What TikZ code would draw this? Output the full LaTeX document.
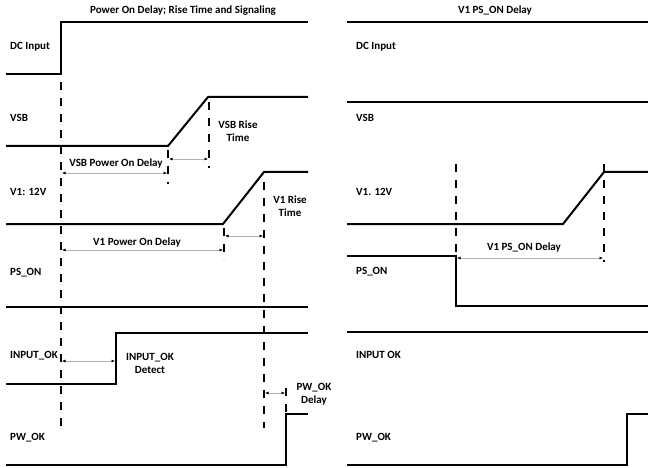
\documentclass[tikz,border=0pt]{standalone}
\usepackage{fontspec}
\setmainfont{Carlito}
\usetikzlibrary{arrows.meta,positioning}

\begin{document}
\begin{tikzpicture}[
    x=1pt, y=-1pt,
    font=\bfseries\fontsize{11}{13}\selectfont,
    signal/.style={
		line width=2pt,
		line join=miter
	},
    guide/.style={
		line width=1.6pt,
		dash pattern=on 8pt off 8pt
	},
    delay/.style={
		draw=gray!60,
		line width=0.6pt,
		{Latex[length=3.5pt,width=3pt,black]}-{Latex[length=3.5pt,width=3pt,black]}
	},
    sig/.style={
		anchor=west,
		inner sep=0pt
	},
    note/.style={
		align=center,
		inner sep=0pt
	}
  ]
  \useasboundingbox (0,0) rectangle (648,468);

  % titles
  \node [note] (titleL) at (183,11) {Power On Delay; Rise Time and Signaling};
  \node [note] (titleR) at (495,11) {V1 PS\_ON Delay};

  % signal names, left panel
  \node [sig] (dcL)   at (10,47)  {DC Input};
  \node [sig] (vsbL)  at (10,118) {VSB};
  \node [sig] (v1L)   at (10,192) {V1: 12V};
  \node [sig] (psonL) at (10,273) {PS\_ON};
  \node [sig] (inokL) at (10,356) {INPUT\_OK};
  \node [sig] (pwokL) at (10,438) {PW\_OK};

  % signal names, right panel
  \node [sig] (dcR)   at (356,47)  {DC Input};
  \node [sig] (vsbR)  at (356,118) {VSB};
  \node [sig] (v1R)   at (356,192) {V1. 12V};
  \node [sig] (psonR) at (356,272) {PS\_ON};
  \node [sig] (inokR) at (356,355) {INPUT OK};
  \node [sig] (pwokR) at (356,438) {PW\_OK};

  % waveforms, left panel
  \draw [signal] (6,74) -- (61,74) -- (61,22) -- (308,22);
  \draw [signal] (6,146) -- (168,146) -- (208,97) -- (308,97);
  \draw [signal] (6,224) -- (223,224) -- (264,172) -- (308,172);
  \draw [signal] (6,307) -- (308,307);
  \draw [signal] (6,384) -- (116,384) -- (116,333) -- (308,333);
  \draw [signal] (6,465) -- (286,465) -- (286,414) -- (308,414);

  % waveforms, right panel
  \draw [signal] (347,22) -- (648,22);
  \draw [signal] (347,102) -- (648,102);
  \draw [signal] (347,224) -- (563,224) -- (604,172) -- (648,172);
  \draw [signal] (347,256) -- (456,256) -- (456,306) -- (648,306);
  \draw [signal] (347,332) -- (648,332);
  \draw [signal] (347,465) -- (627,465) -- (627,414) -- (648,414);

  % guide lines
  \draw [guide] (61,82) -- (61,428);
  \draw [guide] (209,102) -- (209,168);
  \draw [guide] (168,150) -- (168,184);
  \draw [guide] (224,228) -- (224,260);
  \draw [guide] (264,182) -- (264,428);
  \draw [guide] (286,388) -- (286,412);
  \draw [guide] (456,164) -- (456,258);
  \draw [guide] (604,164) -- (604,262);

  % delay markers
  \coordinate (vsbdA) at (62,173);  \coordinate (vsbdB) at (167,173);
  \coordinate (vsbrA) at (169,159); \coordinate (vsbrB) at (208,159);
  \coordinate (v1dA)  at (62,250);  \coordinate (v1dB)  at (223,250);
  \coordinate (v1rA)  at (225,236); \coordinate (v1rB)  at (263,236);
  \coordinate (inokA) at (62,361);  \coordinate (inokB) at (115,361);
  \coordinate (pwokA) at (265,393); \coordinate (pwokB) at (285,393);
  \coordinate (psonA) at (457,258); \coordinate (psonB) at (603,258);

  \draw [delay] (vsbdA) -- (vsbdB);
  \draw [delay] (vsbrA) -- (vsbrB);
  \draw [delay] (v1dA) -- (v1dB);
  \draw [delay] (v1rA) -- (v1rB);
  \draw [delay] (inokA) -- (inokB);
  \draw [delay] (pwokA) -- (pwokB);
  \draw [delay] (psonA) -- (psonB);

  \node [note] (vsbdT) at (116,164) {VSB Power On Delay};
  \node [note] (vsbrT) at (238,131) {VSB Rise\\Time};
  \node [note] (v1dT)  at (137,243) {V1 Power On Delay};
  \node [note] (v1rT)  at (290,206) {V1 Rise\\Time};
  \node [note] (inokT) at (150,363) {INPUT\_OK\\Detect};
  \node [note] (pwokT) at (314,394) {PW\_OK\\Delay};
  \node [note] (psonT) at (524,248) {V1 PS\_ON Delay};
\end{tikzpicture}
\end{document}
